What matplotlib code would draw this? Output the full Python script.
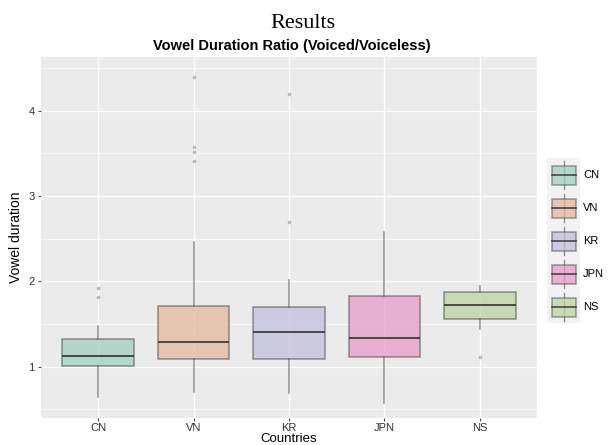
import matplotlib
matplotlib.use("Agg")
import matplotlib.pyplot as plt
from matplotlib.patches import Rectangle
from matplotlib.colors import to_rgba

# ---- data ----
countries = ["CN", "VN", "KR", "JPN", "NS"]
whisker_low = [0.64, 0.70, 0.69, 0.58, 1.44]
q1 = [1.01, 1.09, 1.09, 1.11, 1.56]
median = [1.13, 1.29, 1.41, 1.34, 1.72]
q3 = [1.33, 1.715, 1.70, 1.83, 1.87]
whisker_high = [1.48, 2.46, 2.02, 2.58, 1.95]
outliers = [[1.82, 1.92], [3.41, 3.52, 3.58, 4.40], [2.70, 4.20], [], [1.11]]
colors = ["#a2cebf", "#e4b79c", "#c2bfdb", "#e79cc7", "#bad2a2"]
y_ticks = [1, 2, 3, 4]

W, H = 614, 445
fig = plt.figure(figsize=(W / 100, H / 100), dpi=100)
fig.patch.set_facecolor("white")

def px_axes(x0, y0, x1, y1):
    return fig.add_axes([x0 / W, 1 - y1 / H, (x1 - x0) / W, (y1 - y0) / H])

ax = px_axes(41, 57, 537, 418)
ax.set_facecolor("#EBEBEB")

stats = []
for i, c in enumerate(countries):
    stats.append(dict(label=c, whislo=whisker_low[i], q1=q1[i], med=median[i],
                      q3=q3[i], whishi=whisker_high[i], fliers=outliers[i]))

positions = list(range(1, len(countries) + 1))
bp = ax.bxp(stats, positions=positions, widths=0.75, patch_artist=True,
            showcaps=False,
            boxprops=dict(linewidth=1.2, edgecolor=(0.25, 0.25, 0.25, 0.5)),
            whiskerprops=dict(color=(0.3, 0.3, 0.3, 0.6), linewidth=1.1),
            medianprops=dict(color=(0.15, 0.15, 0.15, 0.8), linewidth=1.4),
            flierprops=dict(marker="o", markersize=2.6, markerfacecolor=(0.3, 0.3, 0.3, 0.35),
                            markeredgecolor="none", linestyle="none"),
            zorder=3)
for patch, col in zip(bp["boxes"], colors):
    patch.set_facecolor(to_rgba(col, 0.75))

ax.set_xlim(0.4, 5.6)
ax.set_ylim(0.399, 4.63)
ax.set_yticks(y_ticks)
ax.set_yticks([0.5, 1.5, 2.5, 3.5, 4.5], minor=True)
ax.set_xticks(positions)
ax.set_xticklabels(countries)
ax.grid(True, which="major", color="white", linewidth=1.0, zorder=0)
ax.grid(True, which="minor", axis="y", color="white", linewidth=0.5, zorder=0)
ax.set_axisbelow(True)
for s in ax.spines.values():
    s.set_visible(False)
ax.tick_params(axis="both", which="major", length=2.5, color="#4D4D4D",
               labelsize=8, labelcolor="#333333", pad=2)
ax.tick_params(axis="x", which="major", pad=1)
ax.tick_params(axis="both", which="minor", length=0)
for lab in ax.get_xticklabels() + ax.get_yticklabels():
    lab.set_family("Liberation Sans")

ax.set_ylabel("Vowel duration", fontsize=10, family="Liberation Sans", labelpad=4)
fig.text(289 / W, 1 - 439 / H, "Countries", ha="center", va="center",
         fontsize=9.5, family="Liberation Sans")

fig.text(303 / W, 1 - 24 / H, "Results", ha="center", va="center",
         fontsize=16, family="Liberation Serif")
fig.text(292 / W, 1 - 46 / H, "Vowel Duration Ratio (Voiced/Voiceless)", ha="center",
         va="center", fontsize=10.5, fontweight="bold", family="Liberation Sans")

# ---- legend ----
lg = px_axes(547, 158, 614, 323)
lg.set_xlim(547, 614)
lg.set_ylim(323, 158)
lg.axis("off")
lg.add_patch(Rectangle((547, 158), 33, 165, facecolor="#F2F2F2", edgecolor="none"))
for i, (c, col) in enumerate(zip(countries, colors)):
    cy = 175 + i * 33
    lg.plot([563.5, 563.5], [cy - 14, cy + 14], color=(0.3, 0.3, 0.3, 0.6), lw=1.0)
    lg.add_patch(Rectangle((551.5, cy - 9.5), 24, 19, facecolor=to_rgba(col, 0.75),
                           edgecolor=(0.25, 0.25, 0.25, 0.5), lw=1.1, zorder=3))
    lg.plot([551.5, 575.5], [cy, cy], color=(0.15, 0.15, 0.15, 0.8), lw=1.2, zorder=4)
    lg.text(583, cy, c, ha="left", va="center", fontsize=8, family="Liberation Sans")

fig.savefig("out.png", dpi=100)
